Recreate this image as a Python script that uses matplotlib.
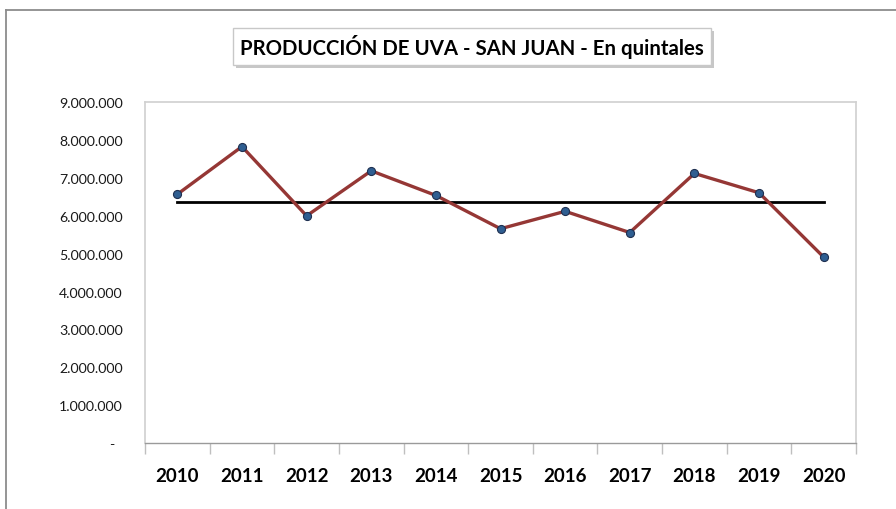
import numpy as np
import matplotlib.pyplot as plt
from matplotlib.lines import Line2D
from matplotlib.patches import Rectangle
from matplotlib.ticker import FixedLocator, FuncFormatter

years = ["2010", "2011", "2012", "2013", "2014", "2015",
         "2016", "2017", "2018", "2019", "2020"]
produccion = [6570000, 7830000, 6000000, 7190000, 6540000, 5660000,
              6120000, 5560000, 7120000, 6610000, 4910000]
promedio = [np.mean(produccion)] * len(produccion)

title = "PRODUCCIÓN DE UVA - SAN JUAN - En quintales"

W, H = 896, 510
fig = plt.figure(figsize=(W / 100, H / 100), dpi=100)
font = ["Lato", "DejaVu Sans"]

# outer chart border (only top and left visible)
fig.add_artist(Line2D([6 / W, 6 / W], [0, 1 - 11 / H], transform=fig.transFigure,
                      color="#8c8c8c", linewidth=1.3))
fig.add_artist(Line2D([6 / W, 1], [1 - 11 / H, 1 - 11 / H], transform=fig.transFigure,
                      color="#8c8c8c", linewidth=1.3))

# plot area
ax = fig.add_axes([145 / W, 1 - 444 / H, (856 - 145) / W, (444 - 103.3) / H])
x = np.arange(len(years))
ax.plot(x, promedio, color="black", linewidth=2.0, zorder=2)
ax.plot(x, produccion, color="#953735", linewidth=2.4, marker="o",
        markersize=5.8, markerfacecolor="#2F5E91", markeredgecolor="#1f3050",
        markeredgewidth=0.8, zorder=3)

ax.set_xlim(-0.5, len(years) - 0.5)
ax.set_ylim(0, 9000000)
ax.set_yticks(np.arange(0, 9000001, 1000000))
ax.yaxis.set_major_formatter(FuncFormatter(
    lambda v, p: "-  " if v == 0 else f"{int(v):,}".replace(",", ".")))
ax.tick_params(axis="y", length=0, pad=16, labelsize=10.2, labelcolor="#1a1a1a")
for lab in ax.get_yticklabels():
    lab.set_family(font)

ax.set_xticks(x)
ax.set_xticklabels(years, fontsize=13.5, fontweight="bold", family=font)
ax.tick_params(axis="x", length=0, pad=17)
ax.xaxis.set_minor_locator(FixedLocator(np.arange(-0.5, len(years), 1.0)))
ax.tick_params(axis="x", which="minor", length=8, color="#bfbfbf", width=1)

for side in ["top", "right", "left"]:
    ax.spines[side].set_color("#d0d0d0")
    ax.spines[side].set_linewidth(1.2)
ax.spines["bottom"].set_color("#9a9a9a")
ax.spines["bottom"].set_linewidth(1.0)

# title box with shadow
bx0, by0, bx1, by1 = 232.5, 28.5, 711, 65.5
fig.add_artist(Rectangle(((bx0 + 3) / W, 1 - (by1 + 3.5) / H), (bx1 - bx0) / W,
                         (by1 - by0) / H, transform=fig.transFigure,
                         facecolor="#b0b0b0", edgecolor="none", alpha=0.7))
fig.add_artist(Rectangle((bx0 / W, 1 - by1 / H), (bx1 - bx0) / W, (by1 - by0) / H,
                         transform=fig.transFigure, facecolor="white",
                         edgecolor="#c8c8c8", linewidth=1.0))
fig.text((bx0 + bx1) / 2 / W, 1 - (by0 + by1) / 2 / H, title, ha="center",
         va="center", fontsize=14.7, fontweight="bold", family=font)

fig.savefig("out.png", dpi=100)
